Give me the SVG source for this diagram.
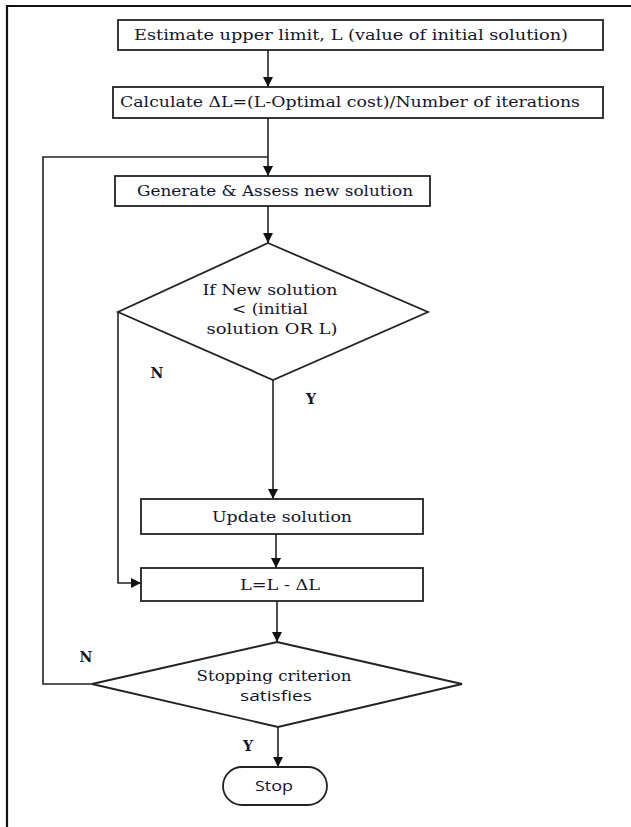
<svg xmlns="http://www.w3.org/2000/svg" width="631" height="827" viewBox="0 0 631 827">
<style>
.box{fill:#fff;stroke:#222;stroke-width:1.8}
.ln{fill:none;stroke:#222;stroke-width:1.6}
.t{font-family:"DejaVu Serif","Liberation Serif",serif;font-size:15px;fill:#14142a;text-anchor:middle}
.s{font-family:"Open Sans","DejaVu Sans",sans-serif;font-size:15px;fill:#14142a;text-anchor:middle}
.lab{font-family:"DejaVu Serif","Liberation Serif",serif;font-size:14px;font-weight:bold;fill:#14142a;text-anchor:middle}
</style>
<defs>
<marker id="ah" viewBox="0 0 10 10" refX="10" refY="5" markerWidth="10" markerHeight="10" markerUnits="userSpaceOnUse" orient="auto">
<path d="M0,0 L10,5 L0,10 z" fill="#111"/>
</marker>
</defs>
<rect width="631" height="827" fill="#fff"/>
<path d="M7,827 V6 H631" fill="none" stroke="#111" stroke-width="2.2"/>
<g id="connectors">
<line class="ln" x1="268" y1="50" x2="268" y2="87" marker-end="url(#ah)"/>
<line class="ln" x1="268" y1="118" x2="268" y2="176" marker-end="url(#ah)"/>
<polyline class="ln" points="92,684 43,684 43,157 268,157"/>
<line class="ln" x1="268" y1="206" x2="268" y2="243" marker-end="url(#ah)"/>
<line class="ln" x1="273" y1="380" x2="273" y2="499" marker-end="url(#ah)"/>
<polyline class="ln" points="118,312 118,583 141,583" marker-end="url(#ah)"/>
<line class="ln" x1="276" y1="534" x2="276" y2="568" marker-end="url(#ah)"/>
<line class="ln" x1="277" y1="601" x2="277" y2="642" marker-end="url(#ah)"/>
<line class="ln" x1="278" y1="727" x2="278" y2="767" marker-end="url(#ah)"/>
<text class="lab" x="157" y="378">N</text>
<text class="lab" x="311" y="404">Y</text>
<text class="lab" x="86" y="662">N</text>
<text class="lab" x="248" y="751">Y</text>
</g>
<g id="estimate">
<rect class="box" x="118" y="20" width="485" height="30"/>
<text class="t" x="351" y="40" textLength="434" lengthAdjust="spacingAndGlyphs">Estimate upper limit, L (value of initial solution)</text>
</g>
<g id="calculate">
<rect class="box" x="113" y="87" width="490" height="31"/>
<text class="t" x="350" y="107" textLength="460" lengthAdjust="spacingAndGlyphs">Calculate ΔL=(L-Optimal cost)/Number of iterations</text>
</g>
<g id="generate">
<rect class="box" x="115" y="176" width="315" height="30"/>
<text class="t" x="275" y="196" textLength="276" lengthAdjust="spacingAndGlyphs">Generate &amp; Assess new solution</text>
</g>
<g id="decision1">
<polygon class="box" points="268,243 428,312 273,380 118,312"/>
<text class="t" x="270" y="295" textLength="135" lengthAdjust="spacingAndGlyphs">If New solution</text>
<text class="t" x="270" y="314" textLength="76" lengthAdjust="spacingAndGlyphs">&lt; (initial</text>
<text class="t" x="272" y="334" textLength="131" lengthAdjust="spacingAndGlyphs">solution OR L)</text>
</g>
<g id="update">
<rect class="box" x="141" y="499" width="282" height="35"/>
<text class="t" x="282" y="522" textLength="140" lengthAdjust="spacingAndGlyphs">Update solution</text>
</g>
<g id="decrease">
<rect class="box" x="141" y="568" width="282" height="33"/>
<text class="t" x="280" y="590" textLength="80" lengthAdjust="spacingAndGlyphs">L=L - ΔL</text>
</g>
<g id="decision2">
<polygon class="box" points="277,642 462,684 278,727 92,684"/>
<text class="t" x="274" y="681" textLength="155" lengthAdjust="spacingAndGlyphs">Stopping criterion</text>
<text class="s" x="276" y="701" textLength="72" lengthAdjust="spacingAndGlyphs">satisfies</text>
</g>
<g id="stop">
<rect class="box" x="223" y="767" width="104" height="38" rx="19"/>
<text class="s" x="274" y="791" textLength="38" lengthAdjust="spacingAndGlyphs">Stop</text>
</g>
</svg>
